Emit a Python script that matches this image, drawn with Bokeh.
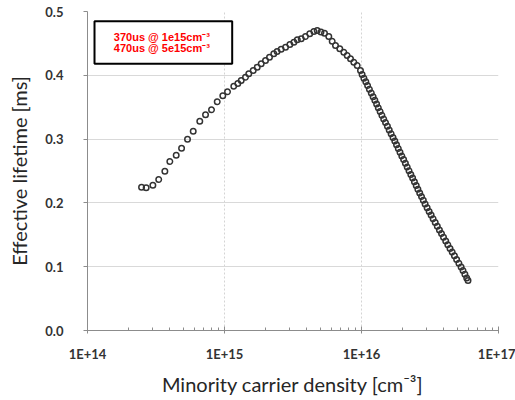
from bokeh.plotting import figure
from bokeh.models import (Range1d, FixedTicker, SingleIntervalTicker, CustomJSTickFormatter,
                          NumeralTickFormatter, BoxAnnotation, Label)
from bokeh.embed import file_html
from bokeh.resources import INLINE

# Minority carrier density [cm^-3]
density = [
    2.48e14, 2.68e14, 3.00e14, 3.31e14, 3.67e14, 3.99e14, 4.44e14, 4.86e14, 5.37e14, 5.91e14,
    6.60e14, 7.27e14, 8.04e14, 8.85e14, 9.72e14, 1.052e15, 1.169e15, 1.251e15, 1.324e15, 1.423e15,
    1.504e15, 1.620e15, 1.733e15, 1.853e15, 1.992e15, 2.13e15, 2.29e15, 2.42e15, 2.59e15, 2.79e15,
    3.00e15, 3.21e15, 3.40e15, 3.63e15, 3.90e15, 4.19e15, 4.49e15, 4.75e15, 5.06e15, 5.37e15,
    5.77e15, 6.11e15, 6.46e15, 6.94e15, 7.43e15, 7.86e15, 8.31e15, 8.79e15, 9.30e15, 9.83e15,
    1.010e16, 1.041e16, 1.075e16, 1.108e16, 1.142e16, 1.179e16, 1.215e16, 1.251e16, 1.289e16, 1.326e16,
    1.367e16, 1.409e16, 1.452e16, 1.497e16, 1.546e16, 1.593e16, 1.645e16, 1.698e16, 1.750e16, 1.801e16,
    1.856e16, 1.910e16, 1.969e16, 2.029e16, 2.091e16, 2.156e16, 2.222e16, 2.291e16, 2.361e16, 2.433e16,
    2.508e16, 2.580e16, 2.660e16, 2.742e16, 2.826e16, 2.912e16, 3.012e16, 3.115e16, 3.221e16, 3.331e16,
    3.451e16, 3.575e16, 3.704e16, 3.837e16, 3.968e16, 4.118e16, 4.266e16, 4.426e16, 4.592e16, 4.766e16,
    4.946e16, 5.140e16, 5.333e16, 5.507e16, 5.685e16, 5.860e16, 5.990e16,
]

# Effective lifetime [ms]
lifetime = [
    0.2246, 0.2237, 0.2277, 0.2367, 0.2497, 0.2649, 0.2748, 0.2857, 0.2998, 0.3124,
    0.3281, 0.3381, 0.3459, 0.3585, 0.3679, 0.3741, 0.3829, 0.3871, 0.3918, 0.3970,
    0.4023, 0.4075, 0.4127, 0.4180, 0.4232, 0.4284, 0.4337, 0.4373, 0.4409, 0.4440,
    0.4483, 0.4519, 0.4556, 0.4572, 0.4608, 0.4650, 0.4687, 0.4702, 0.4679, 0.4660,
    0.4608, 0.4534, 0.4467, 0.4415, 0.4362, 0.4310, 0.4259, 0.4205, 0.4154, 0.4075,
    0.4013, 0.3955, 0.3897, 0.3839, 0.3781, 0.3723, 0.3665, 0.3607, 0.3549, 0.3491,
    0.3433, 0.3375, 0.3317, 0.3259, 0.3201, 0.3143, 0.3085, 0.3027, 0.2969, 0.2911,
    0.2853, 0.2795, 0.2737, 0.2679, 0.2621, 0.2563, 0.2505, 0.2447, 0.2389, 0.2331,
    0.2273, 0.2215, 0.2157, 0.2099, 0.2041, 0.1983, 0.1925, 0.1867, 0.1809, 0.1751,
    0.1693, 0.1635, 0.1577, 0.1519, 0.1461, 0.1403, 0.1345, 0.1287, 0.1229, 0.1171,
    0.1113, 0.1055, 0.0997, 0.0939, 0.0881, 0.0823, 0.0784,
]

x_major = [1e14, 1e15, 1e16, 1e17]
annotation_lines = ["370us @ 1e15cm\u207b\u00b3", "470us @ 5e15cm\u207b\u00b3"]

p = figure(width=515, height=400, x_axis_type="log",
           x_range=Range1d(1e14, 1e17), y_range=Range1d(0, 0.5),
           output_backend="svg", toolbar_location=None,
           min_border_left=87, min_border_right=17, min_border_top=11, min_border_bottom=70)
p.outline_line_color = None
p.background_fill_color = "white"

# axes
minor = [m * d for d in [1e14, 1e15, 1e16] for m in range(2, 10)]
p.xaxis.ticker = FixedTicker(ticks=x_major, minor_ticks=minor)
p.xaxis.formatter = CustomJSTickFormatter(code="return '1E+' + Math.round(Math.log10(tick));")
p.yaxis.ticker = SingleIntervalTicker(interval=0.1, num_minor_ticks=0)
p.yaxis.formatter = NumeralTickFormatter(format="0.0")

for ax in (p.xaxis[0], p.yaxis[0]):
    ax.axis_line_color = "#8c8c8c"
    ax.major_tick_line_color = "#8c8c8c"
    ax.minor_tick_line_color = "#8c8c8c"
    ax.major_label_text_font = "Lato"
    ax.major_label_text_font_style = "bold"
    ax.major_label_text_font_size = "13px"
    ax.major_label_text_color = "#333333"
    ax.axis_label_text_font = "Lato"
    ax.axis_label_text_font_style = "normal"
    ax.axis_label_text_font_size = "20px"
    ax.axis_label_text_color = "#262626"

p.xaxis.major_tick_in = 4
p.xaxis.major_tick_out = 3
p.xaxis.minor_tick_in = 3
p.xaxis.minor_tick_out = 0
p.xaxis.major_label_standoff = 12
p.xaxis.axis_label_standoff = 7
p.xaxis.axis_label = "Minority carrier density [cm\u207b\u00b3]"

p.yaxis.major_tick_in = 0
p.yaxis.major_tick_out = 4
p.yaxis.minor_tick_line_color = None
p.yaxis.major_label_standoff = 20
p.yaxis.axis_label_standoff = 11
p.yaxis.axis_label = "Effective lifetime [ms]"

# grids
p.ygrid.grid_line_color = "#d9d9d9"
p.ygrid.grid_line_width = 1
p.xgrid.grid_line_color = "#d4d4d4"
p.xgrid.grid_line_dash = "2 2"
p.xgrid.grid_line_width = 1

# data
p.scatter(density, lifetime, marker="circle", size=5.5, line_color="#333333",
          line_width=1.5, fill_color=None)

# annotation box
box = BoxAnnotation(left=1.125e14, right=1.138e15, top=0.4848, bottom=0.418,
                    fill_color="white", fill_alpha=1.0, line_color="black",
                    line_alpha=1.0, line_width=2)
p.add_layout(box)
for txt, yv in zip(annotation_lines, [0.4608, 0.4431]):
    p.add_layout(Label(x=1.556e14, y=yv, text=txt, text_font="Liberation Sans",
                       text_font_style="bold", text_font_size="11px", text_color="#ff0000",
                       text_baseline="middle", text_align="left"))

open("out.html", "w").write(file_html(p, INLINE))
